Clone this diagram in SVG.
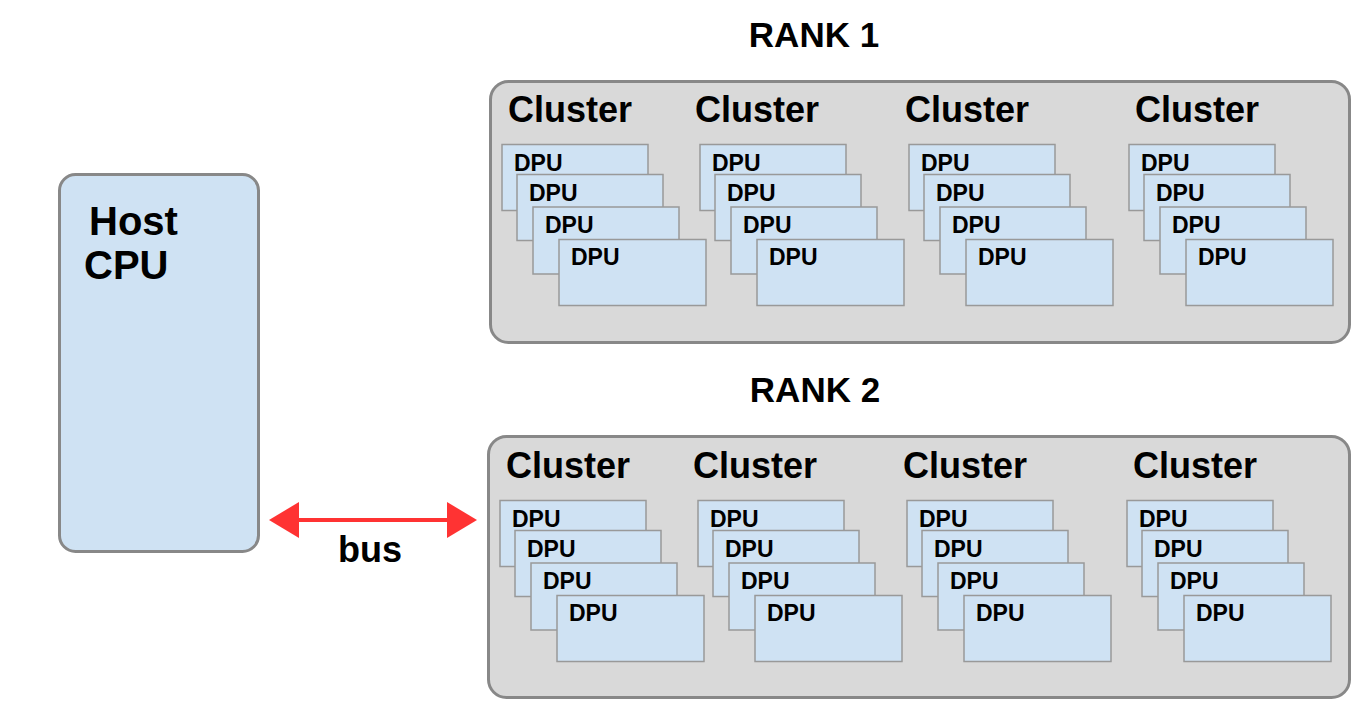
<svg xmlns="http://www.w3.org/2000/svg" width="1370" height="710" viewBox="0 0 1370 710">
<style>
.t{font-family:"Liberation Sans",Arial,sans-serif;font-weight:bold;fill:#000}
.rank{fill:#d9d9d9;stroke:#888;stroke-width:3}
.host{fill:#cfe2f3;stroke:#888;stroke-width:3}
.dpu{fill:#cfe2f3;stroke:#999;stroke-width:1.5}
.dt{font-size:23px}
.ct{font-size:36px}
</style>
<rect width="1370" height="710" fill="#fff"/>
<g id="host-cpu">
<rect class="host" x="59.5" y="174.5" width="199" height="377" rx="16"/>
<text class="t" x="89" y="235" font-size="40">Host</text>
<text class="t" x="84" y="279" font-size="40">CPU</text>
</g>
<g id="rank1">
<text class="t" x="814" y="47" font-size="35" text-anchor="middle">RANK 1</text>
<rect class="rank" x="490.5" y="81.5" width="859" height="261" rx="18"/>
</g>
<g id="rank2">
<text class="t" x="815" y="402" font-size="35" text-anchor="middle">RANK 2</text>
<rect class="rank" x="488.5" y="436.5" width="861" height="261" rx="18"/>
</g>
<g id="r1-cluster1">
<text class="t ct" x="508" y="122">Cluster</text>
<g transform="translate(502,144.5)">
<rect class="dpu" x="0" y="0" width="146" height="66"/><text class="t dt" x="12" y="26">DPU</text>
<rect class="dpu" x="15" y="30" width="146" height="66"/><text class="t dt" x="27" y="56">DPU</text>
<rect class="dpu" x="31" y="62.5" width="146" height="67"/><text class="t dt" x="43" y="88">DPU</text>
<rect class="dpu" x="57" y="95" width="147" height="66"/><text class="t dt" x="69" y="120">DPU</text>
</g>
</g>
<g id="r1-cluster2">
<text class="t ct" x="695" y="122">Cluster</text>
<g transform="translate(700,144.5)">
<rect class="dpu" x="0" y="0" width="146" height="66"/><text class="t dt" x="12" y="26">DPU</text>
<rect class="dpu" x="15" y="30" width="146" height="66"/><text class="t dt" x="27" y="56">DPU</text>
<rect class="dpu" x="31" y="62.5" width="146" height="67"/><text class="t dt" x="43" y="88">DPU</text>
<rect class="dpu" x="57" y="95" width="147" height="66"/><text class="t dt" x="69" y="120">DPU</text>
</g>
</g>
<g id="r1-cluster3">
<text class="t ct" x="905" y="122">Cluster</text>
<g transform="translate(909,144.5)">
<rect class="dpu" x="0" y="0" width="146" height="66"/><text class="t dt" x="12" y="26">DPU</text>
<rect class="dpu" x="15" y="30" width="146" height="66"/><text class="t dt" x="27" y="56">DPU</text>
<rect class="dpu" x="31" y="62.5" width="146" height="67"/><text class="t dt" x="43" y="88">DPU</text>
<rect class="dpu" x="57" y="95" width="147" height="66"/><text class="t dt" x="69" y="120">DPU</text>
</g>
</g>
<g id="r1-cluster4">
<text class="t ct" x="1135" y="122">Cluster</text>
<g transform="translate(1129,144.5)">
<rect class="dpu" x="0" y="0" width="146" height="66"/><text class="t dt" x="12" y="26">DPU</text>
<rect class="dpu" x="15" y="30" width="146" height="66"/><text class="t dt" x="27" y="56">DPU</text>
<rect class="dpu" x="31" y="62.5" width="146" height="67"/><text class="t dt" x="43" y="88">DPU</text>
<rect class="dpu" x="57" y="95" width="147" height="66"/><text class="t dt" x="69" y="120">DPU</text>
</g>
</g>
<g id="r2-cluster1">
<text class="t ct" x="506" y="478">Cluster</text>
<g transform="translate(500,500.5)">
<rect class="dpu" x="0" y="0" width="146" height="66"/><text class="t dt" x="12" y="26">DPU</text>
<rect class="dpu" x="15" y="30" width="146" height="66"/><text class="t dt" x="27" y="56">DPU</text>
<rect class="dpu" x="31" y="62.5" width="146" height="67"/><text class="t dt" x="43" y="88">DPU</text>
<rect class="dpu" x="57" y="95" width="147" height="66"/><text class="t dt" x="69" y="120">DPU</text>
</g>
</g>
<g id="r2-cluster2">
<text class="t ct" x="693" y="478">Cluster</text>
<g transform="translate(698,500.5)">
<rect class="dpu" x="0" y="0" width="146" height="66"/><text class="t dt" x="12" y="26">DPU</text>
<rect class="dpu" x="15" y="30" width="146" height="66"/><text class="t dt" x="27" y="56">DPU</text>
<rect class="dpu" x="31" y="62.5" width="146" height="67"/><text class="t dt" x="43" y="88">DPU</text>
<rect class="dpu" x="57" y="95" width="147" height="66"/><text class="t dt" x="69" y="120">DPU</text>
</g>
</g>
<g id="r2-cluster3">
<text class="t ct" x="903" y="478">Cluster</text>
<g transform="translate(907,500.5)">
<rect class="dpu" x="0" y="0" width="146" height="66"/><text class="t dt" x="12" y="26">DPU</text>
<rect class="dpu" x="15" y="30" width="146" height="66"/><text class="t dt" x="27" y="56">DPU</text>
<rect class="dpu" x="31" y="62.5" width="146" height="67"/><text class="t dt" x="43" y="88">DPU</text>
<rect class="dpu" x="57" y="95" width="147" height="66"/><text class="t dt" x="69" y="120">DPU</text>
</g>
</g>
<g id="r2-cluster4">
<text class="t ct" x="1133" y="478">Cluster</text>
<g transform="translate(1127,500.5)">
<rect class="dpu" x="0" y="0" width="146" height="66"/><text class="t dt" x="12" y="26">DPU</text>
<rect class="dpu" x="15" y="30" width="146" height="66"/><text class="t dt" x="27" y="56">DPU</text>
<rect class="dpu" x="31" y="62.5" width="146" height="67"/><text class="t dt" x="43" y="88">DPU</text>
<rect class="dpu" x="57" y="95" width="147" height="66"/><text class="t dt" x="69" y="120">DPU</text>
</g>
</g>
<g id="connectors">
<line x1="297" y1="520" x2="449" y2="520" stroke="#ff3333" stroke-width="4"/>
<polygon points="269,520 299,502 299,538" fill="#ff3333"/>
<polygon points="477,520 447,502 447,538" fill="#ff3333"/>
<text class="t" x="370" y="562" font-size="36" text-anchor="middle">bus</text>
</g>
</svg>
